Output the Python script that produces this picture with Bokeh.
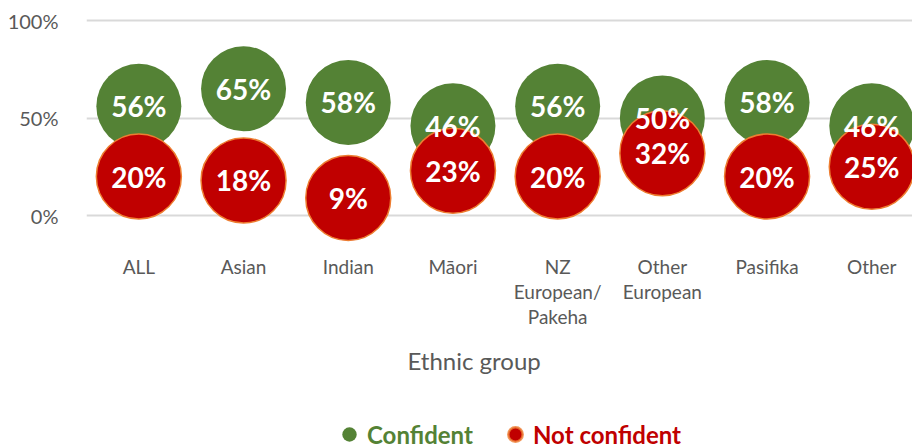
import numpy as np
from bokeh.plotting import figure
from bokeh.layouts import column
from bokeh.models import (ColumnDataSource, Range1d, FixedTicker, Legend, LegendItem,
                          PrintfTickFormatter, Title)
from bokeh.embed import file_html
from bokeh.resources import INLINE
from bokeh.core.properties import value

categories = ["ALL", "Asian", "Indian", "Māori", "NZ\nEuropean/\nPakeha",
              "Other\nEuropean", "Pasifika", "Other"]
confident = [56, 65, 58, 46, 56, 50, 58, 46]
not_confident = [20, 18, 9, 23, 20, 32, 20, 25]
y_ticks = [0, 50, 100]
series_names = ["Confident", "Not confident"]
x_title = "Ethnic group"

GREEN = "#548235"
RED = "#C00000"
ORANGE = "#ED7D31"
GRAY = "#595959"
FONT = "Lato"

xs = list(range(len(categories)))
src = ColumnDataSource(dict(
    x=xs,
    conf=confident,
    notc=not_confident,
    conf_lbl=[f"{v}%" for v in confident],
    notc_lbl=[f"{v}%" for v in not_confident],
))

p = figure(width=912, height=395, output_backend="svg", toolbar_location=None,
           x_range=Range1d(-0.5, 7.389), y_range=Range1d(-14.87, 110.3),
           min_border_left=86, min_border_right=0, min_border_top=0,
           min_border_bottom=151, outline_line_color=None)

p.scatter(x="x", y="conf", source=src, size=85, fill_color=GREEN, line_color=None)
p.scatter(x="x", y="notc", source=src, size=85, fill_color=RED,
          line_color=ORANGE, line_width=1.5)
p.text(x="x", y="conf", text="conf_lbl", source=src, text_align="center",
       text_baseline="middle", text_color="white", text_font=value(FONT),
       text_font_style="bold", text_font_size="28px")
p.text(x="x", y="notc", text="notc_lbl", source=src, text_align="center",
       text_baseline="middle", text_color="white", text_font=value(FONT),
       text_font_style="bold", text_font_size="28px")

# axes
p.xaxis.ticker = FixedTicker(ticks=xs)
p.xaxis.major_label_overrides = {i: c for i, c in enumerate(categories)}
p.xaxis.axis_line_color = None
p.xaxis.major_tick_line_color = None
p.xaxis.minor_tick_line_color = None
p.xaxis.major_label_text_font = FONT
p.xaxis.major_label_text_font_size = "19px"
p.xaxis.major_label_text_color = GRAY
p.xaxis.major_label_text_line_height = 1.1
p.xaxis.major_label_standoff = 4

# axis title placed like the original (left of the frame centre)
p.add_layout(Title(text=x_title, align="left", offset=321, standoff=25,
                   text_font=FONT, text_font_style="normal",
                   text_font_size="24px", text_color=GRAY), "below")

p.yaxis.ticker = FixedTicker(ticks=y_ticks)
p.yaxis.formatter = PrintfTickFormatter(format="%d%%")
p.yaxis.axis_line_color = None
p.yaxis.major_tick_line_color = None
p.yaxis.minor_tick_line_color = None
p.yaxis.major_label_text_font = FONT
p.yaxis.major_label_text_font_size = "20px"
p.yaxis.major_label_text_color = GRAY
p.yaxis.major_label_standoff = 22

p.xgrid.grid_line_color = None
p.ygrid.grid_line_color = "#D9D9D9"
p.ygrid.grid_line_width = 2

# legend strip (separate frameless figure so the legend is not clipped)
lf = figure(width=912, height=53, output_backend="svg", toolbar_location=None,
            x_range=Range1d(0, 1), y_range=Range1d(0, 1),
            x_axis_location=None, y_axis_location=None,
            min_border_left=0, min_border_right=0, min_border_top=0,
            min_border_bottom=0, outline_line_color=None)
lf.grid.visible = False
# proxies for the legend (their points fall outside this strip's range)
lg_g = lf.scatter(x="x", y="conf", source=src, fill_color=GREEN, line_color=None)
lg_r = lf.scatter(x="x", y="notc", source=src, fill_color=RED,
                  line_color=ORANGE, line_width=2.5, line_alpha=0.8)

def make_legend(label, rend, color, loc):
    lg = Legend(items=[LegendItem(label=label, renderers=[rend], index=0)], location=loc,
                orientation="horizontal", glyph_width=36, glyph_height=36,
                label_standoff=0, padding=0, margin=0, spacing=0,
                border_line_color=None, background_fill_alpha=0,
                label_text_font=FONT, label_text_font_style="bold",
                label_text_font_size="24px", label_text_color=color)
    lf.add_layout(lg, "center")

make_legend(series_names[0], lg_g, GREEN, (245, -4))
make_legend(series_names[1], lg_r, RED, (411, -4))

layout = column(p, lf, spacing=0)
open("out.html", "w").write(file_html(layout, INLINE))
